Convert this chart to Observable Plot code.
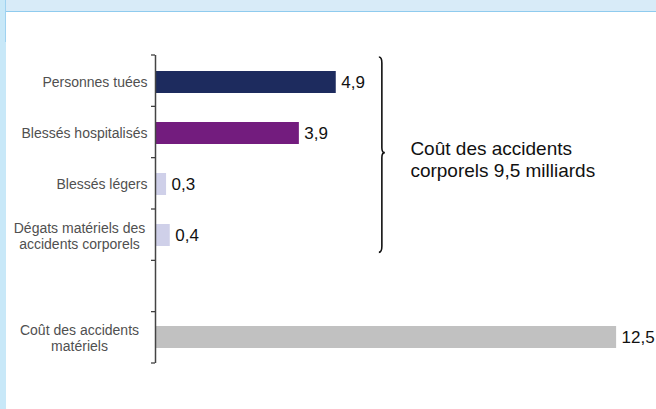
<!DOCTYPE html>
<html>
<head>
<meta charset="utf-8">
<script src="https://cdn.jsdelivr.net/npm/d3@7"></script>
<script src="https://cdn.jsdelivr.net/npm/@observablehq/plot@0.6"></script>
<style>
  html, body { margin: 0; padding: 0; background: #ffffff; overflow: hidden; }
  #wrap { position: relative; width: 656px; height: 409px; overflow: hidden; background: #fff; }
  #topband { position: absolute; left: 0; top: 0; width: 656px; height: 10.5px; background: #d8ebf8; border-bottom: 1.5px solid #8fcbee; }
  #leftstrip { position: absolute; left: 0; top: 0; width: 6px; height: 409px; background: #c8e8f8; }
  #leftline { position: absolute; left: 5px; top: 0; width: 1px; height: 42px; background: #9fd2f0; }
  #chart { position: absolute; left: 0; top: 0; }
</style>
</head>
<body>
<div id="wrap">
  <div id="chart"></div>
  <div id="topband"></div>
  <div id="leftstrip"></div>
  <div id="leftline"></div>
</div>
<script>
// ---- data ----
const labels = [
  "Personnes tuées",
  "Blessés hospitalisés",
  "Blessés légers",
  "Dégats matériels des\naccidents corporels",
  "Coût des accidents\nmatériels"
];
const values = [4.9, 3.9, 0.3, 0.4, 12.5];
const valueLabels = ["4,9", "3,9", "0,3", "0,4", "12,5"];
const barColors = ["#1d2b5e", "#731c7e", "#cfd0e9", "#cfd0e9", "#c1c1c1"];
const spacer = " ";
const yDomain = [labels[0], labels[1], labels[2], labels[3], spacer, labels[4]];
const braceText = "Coût des accidents\ncorporels 9,5 milliards";
const braceGroup = [labels[0], labels[3]];

// ---- layout ----
const W = 656, H = 409;
const mTop = 55, mBottom = 46, mLeft = 155, mRight = 3;
const step = (H - mTop - mBottom) / yDomain.length;

const rows = labels.map((l, i) => ({label: l, value: values[i], text: valueLabels[i], color: barColors[i]}));
const singleLabels = labels.filter(l => !l.includes("\n"));
const multiLabels = labels.filter(l => l.includes("\n"));

// boundary ticks, positioned from the plot's own scales/dimensions
function boundaryTicks(index, scales, values, dim) {
  const g = d3.create("svg:g");
  const top = dim.marginTop;
  for (let i = 0; i <= yDomain.length; i++) {
    const y = top + i * (dim.height - dim.marginTop - dim.marginBottom) / yDomain.length;
    const x0 = scales.x(0);
    g.append("line").attr("x1", x0 - 4).attr("x2", x0).attr("y1", y).attr("y2", y)
      .attr("stroke", "#333").attr("stroke-width", 1.2);
  }
  return g.node();
}

function brace(index, scales, values, dim) {
  const st = (dim.height - dim.marginTop - dim.marginBottom) / yDomain.length;
  const i0 = yDomain.indexOf(braceGroup[0]);
  const i1 = yDomain.indexOf(braceGroup[1]);
  const top = dim.marginTop + i0 * st + 2;
  const bottom = dim.marginTop + (i1 + 1) * st - 8;
  const mid = (top + bottom) / 2 - 2;
  const bx = scales.x(6.15);
  const p = d3.path();
  p.moveTo(bx - 3, top);
  p.quadraticCurveTo(bx, top, bx, top + 6);
  p.lineTo(bx, mid - 5);
  p.quadraticCurveTo(bx, mid, bx + 3, mid);
  p.quadraticCurveTo(bx, mid, bx, mid + 5);
  p.lineTo(bx, bottom - 6);
  p.quadraticCurveTo(bx, bottom, bx - 3, bottom);
  return d3.create("svg:path").attr("d", p.toString()).attr("fill", "none")
    .attr("stroke", "#111").attr("stroke-width", 1.6).node();
}

const chart = Plot.plot({
  width: W,
  height: H,
  marginTop: mTop,
  marginBottom: mBottom,
  marginLeft: mLeft,
  marginRight: mRight,
  style: {fontFamily: "'Liberation Sans', Arial, Helvetica, sans-serif", background: "transparent"},
  x: {domain: [0, 13.5], axis: null},
  y: {domain: yDomain, paddingInner: 0.57, paddingOuter: 0.285, axis: null},
  color: {type: "identity"},
  marks: [
    Plot.barX(rows, {x: "value", y: "label", fill: "color"}),
    Plot.ruleX([0], {stroke: "#444", strokeWidth: 1.5}),
    boundaryTicks,
    Plot.text(rows, {x: "value", y: "label", text: "text", dx: 5, textAnchor: "start", fontSize: 17, fill: "#111"}),
    Plot.text(singleLabels, {y: d => d, frameAnchor: "left", dx: -8, textAnchor: "end", fontSize: 14, fill: "#505050"}),
    Plot.text(multiLabels, {y: d => d, frameAnchor: "left", dx: -76, textAnchor: "middle", fontSize: 14, lineHeight: 1.15, fill: "#505050"}),
    brace,
    Plot.text([braceText], {x: 6.91, y: () => labels[1], dy: step / 2, text: d => d, textAnchor: "start", fontSize: 19, lineHeight: 1.15, fill: "#111"})
  ]
});
document.getElementById("chart").appendChild(chart);
</script>
</body>
</html>
